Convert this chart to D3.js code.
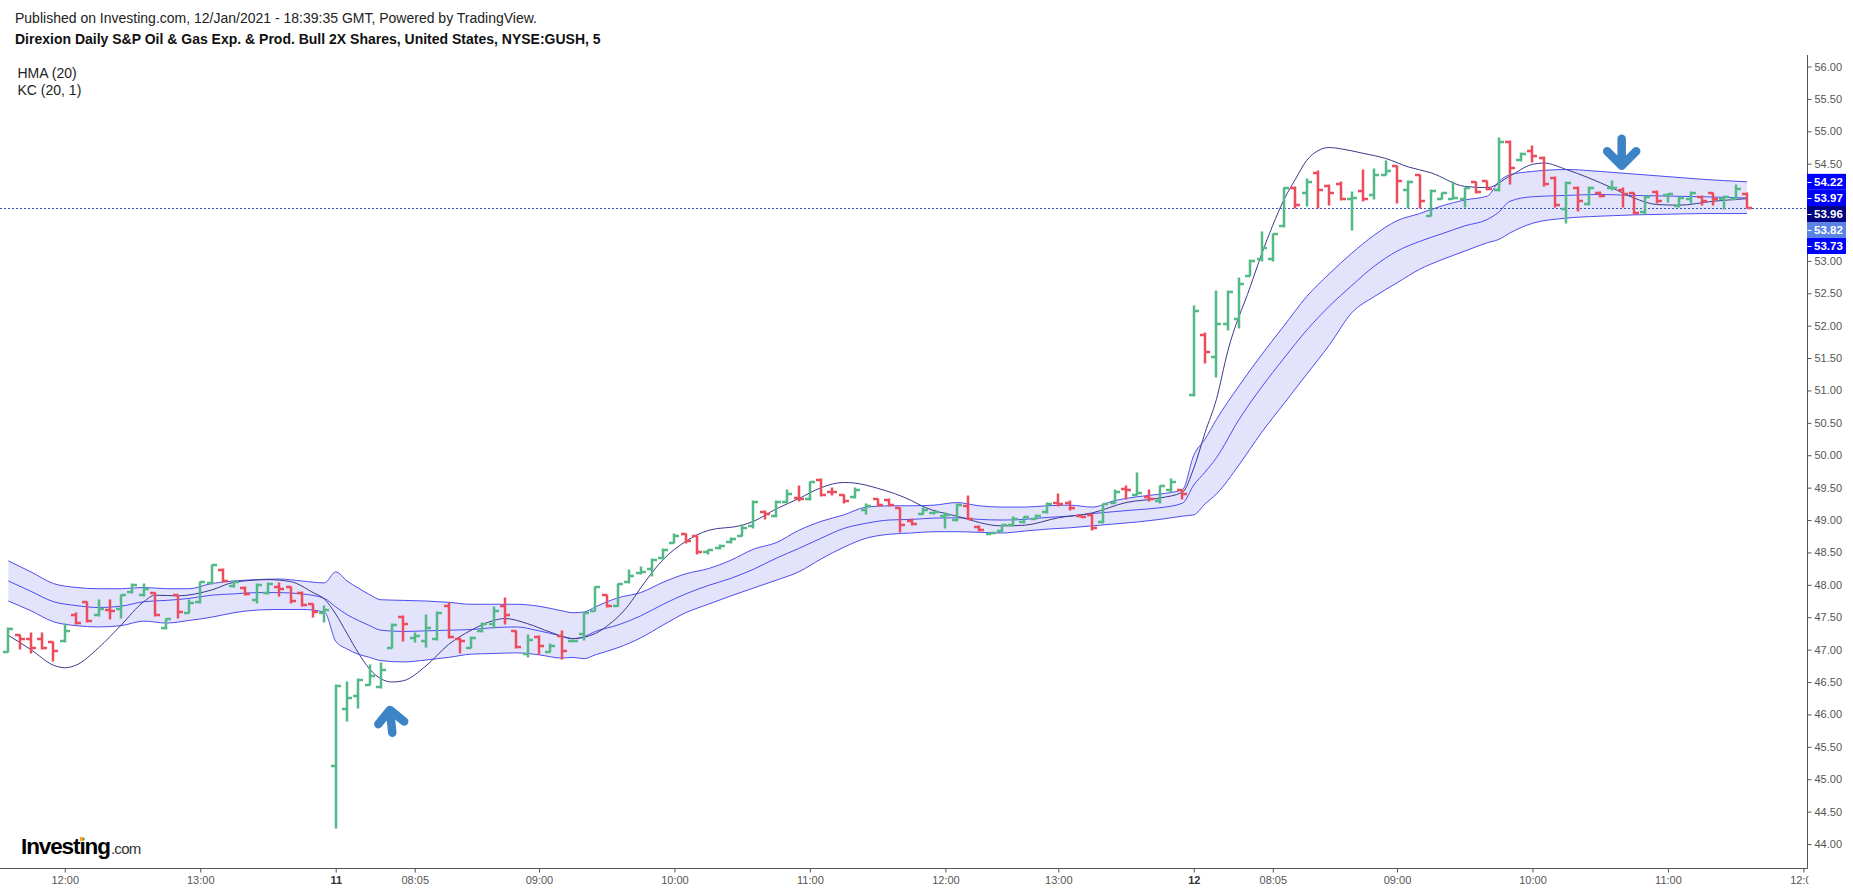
<!DOCTYPE html>
<html>
<head>
<meta charset="utf-8">
<title>GUSH 5 min</title>
<script src="https://cdn.jsdelivr.net/npm/d3@7"></script>
<style>
  body { margin: 0; background: #fff; }
  text { font-family: "Liberation Sans", Arial, sans-serif; }
</style>
</head>
<body>
<div id="chart"></div>
<script>
// 5 minute bars, one entry per bar (Jan 8 11:35 -> Jan 12 11:35)
let opens = [46.97,47.22,47.16,47.16,47.12,47.13,47.54,47.74,47.54,47.61,47.62,47.89,47.84,47.88,47.33,47.84,47.57,47.73,48.03,48.23,47.98,47.95,47.76,47.88,47.96,47.97,47.88,47.70,47.56,
  45.20,46.08,46.29,46.46,46.43,47.03,47.51,47.18,47.13,47.16,47.68,47.17,47.03,47.28,47.39,47.67,47.28,46.94,47.20,46.97,47.21,47.13,47.24,47.60,47.84,47.68,48.05,48.18,48.24,48.41,
  48.65,48.78,48.75,48.50,48.57,48.66,48.76,48.91,49.13,49.06,49.28,49.34,49.33,49.62,49.44,49.38,49.35,49.16,49.32,49.31,49.18,48.99,49.10,49.11,49.06,49.00,49.21,48.90,48.79,48.83,
  48.92,48.97,49.02,49.13,49.27,49.26,49.06,49.08,48.97,49.27,49.48,49.39,49.35,49.29,49.46,49.46,
  50.93,51.86,51.51,52.03,52.11,52.77,53.03,53.03,53.54,54.13,54.04,54.36,54.15,54.19,53.96,54.08,54.01,54.33,54.46,54.10,54.32,53.70,53.96,53.96,53.95,54.21,54.23,54.09,54.84,54.56,
  54.69,54.59,54.28,53.80,54.13,53.88,54.05,54.12,54.10,54.04,53.75,54.07,54.02,53.85,53.95,53.99,54.04,53.95,53.96,54.03];
let highs = [47.34,47.23,47.26,47.26,47.12,47.39,47.56,47.74,47.76,47.76,47.85,48.01,48.02,47.88,47.48,47.84,47.77,48.05,48.31,48.24,48.06,47.96,48.01,48.03,48.03,47.97,47.89,47.71,47.68,
  46.45,46.50,46.54,46.76,46.79,47.39,47.52,47.26,47.54,47.58,47.72,47.18,47.19,47.41,47.66,47.80,47.28,47.22,47.21,47.08,47.28,47.15,47.56,47.97,47.85,48.02,48.23,48.28,48.40,48.55,
  48.78,48.78,48.76,48.54,48.61,48.72,48.93,49.29,49.14,49.29,49.46,49.53,49.59,49.63,49.50,49.39,49.50,49.24,49.33,49.32,49.19,49.02,49.19,49.13,49.11,49.24,49.37,48.91,48.80,48.93,
  49.04,49.05,49.08,49.27,49.40,49.29,49.07,49.09,49.25,49.46,49.53,49.72,49.47,49.53,49.63,49.47,
  52.30,51.88,52.53,52.53,52.74,53.01,53.45,53.42,54.13,54.14,54.27,54.38,54.17,54.21,54.07,54.41,54.42,54.54,54.47,54.23,54.33,54.09,54.05,54.22,54.13,54.22,54.24,54.90,54.85,54.67,
  54.77,54.60,54.30,54.21,54.14,54.14,54.06,54.23,54.12,54.05,54.00,54.08,54.03,53.99,54.06,54.00,54.04,54.00,54.17,54.04];
let lows = [46.96,47.01,46.95,47.01,46.82,47.11,47.39,47.43,47.52,47.48,47.49,47.87,47.83,47.52,47.32,47.49,47.56,47.72,48.02,48.04,47.97,47.85,47.72,47.86,47.83,47.72,47.67,47.51,47.43,
  44.25,45.90,46.10,46.45,46.41,47.02,47.13,47.12,47.04,47.15,47.18,46.95,47.02,47.27,47.33,47.40,47.02,46.89,46.93,46.96,46.86,47.12,47.15,47.60,47.66,47.67,48.03,48.17,48.14,48.40,
  48.64,48.65,48.48,48.47,48.56,48.65,48.75,48.88,49.01,49.05,49.27,49.29,49.31,49.37,49.38,49.27,49.34,49.09,49.22,49.22,48.82,48.92,49.09,49.10,48.88,48.99,49.01,48.83,48.78,48.82,
  48.91,48.96,49.01,49.11,49.22,49.15,49.04,48.84,48.95,49.26,49.33,49.38,49.30,49.27,49.44,49.33,
  50.92,51.43,51.20,51.94,51.97,52.77,53.00,53.00,53.53,53.81,53.85,53.81,53.87,53.94,53.47,53.93,53.95,54.32,53.90,53.82,53.82,53.70,53.95,53.95,53.83,54.05,54.09,54.08,54.18,54.54,
  54.52,54.15,53.83,53.58,53.77,53.87,53.99,54.09,53.83,53.73,53.73,53.90,53.91,53.83,53.90,53.87,53.87,53.80,53.95,53.82];
let closes = [47.32,47.16,47.03,47.03,46.98,47.29,47.41,47.44,47.62,47.59,47.84,48.00,47.93,47.53,47.47,47.58,47.72,48.04,48.30,48.06,48.05,47.86,47.99,48.02,47.94,47.75,47.69,47.58,47.61,
  46.44,46.26,46.53,46.59,46.69,47.38,47.39,47.21,47.34,47.57,47.20,47.13,47.18,47.40,47.60,47.53,47.04,47.15,47.06,47.06,46.98,47.14,47.56,47.96,47.68,48.01,48.14,48.20,48.39,48.54,
  48.76,48.67,48.50,48.53,48.60,48.70,48.87,49.28,49.09,49.28,49.40,49.33,49.58,49.38,49.43,49.29,49.47,49.22,49.23,49.23,48.92,48.94,49.16,49.12,49.08,49.23,49.02,48.84,48.80,48.92,
  49.02,49.04,49.07,49.25,49.24,49.19,49.05,48.87,49.24,49.44,49.46,49.41,49.33,49.52,49.58,49.40,
  52.22,51.60,52.02,52.52,52.65,53.00,53.20,53.41,54.12,53.86,54.22,54.09,54.05,53.96,53.97,53.95,54.33,54.38,54.23,54.22,53.92,54.08,54.04,53.97,54.12,54.06,54.11,54.84,54.44,54.65,
  54.62,54.18,53.86,54.20,53.92,54.13,54.00,54.13,54.03,53.74,53.99,53.92,54.03,53.97,54.05,53.92,53.95,53.99,54.11,53.82];

// Keltner channel (20, 1) at these bars
let kcBars = [0,2,4,6,8,10,12,14,16,18,20,22,24,26,28,29,30,31,32,33,35,37,39,41,43,45,47,49,50,51,
  52,54,56,58,60,62,64,66,68,70,72,74,76,78,80,82,84,86,88,90,92,94,96,98,100,102,104,105,106,107,
  109,111,113,115,117,119,121,123,125,127,129,131,132,133,135,138,141,144,147,150,154];
let kcUpper = [48.37,48.20,48.02,47.96,47.94,47.94,47.96,47.94,47.94,48.02,48.06,48.08,48.09,48.06,48.03,48.20,48.06,47.95,47.85,47.77,
  47.76,47.75,47.73,47.70,47.70,47.70,47.67,47.60,47.57,47.58,47.66,47.80,47.88,48.04,48.17,48.25,48.38,48.55,48.65,48.84,
  48.98,49.08,49.20,49.22,49.22,49.23,49.27,49.22,49.20,49.20,49.22,49.23,49.20,49.30,49.36,49.40,49.47,50.00,50.25,50.55,
  51.07,51.55,52.00,52.45,52.80,53.12,53.40,53.62,53.73,53.85,53.94,54.00,54.22,54.33,54.38,54.41,54.38,54.34,54.30,54.26,54.22];
let kcMiddle = [48.06,47.90,47.74,47.68,47.65,47.67,47.74,47.76,47.79,47.84,47.86,47.88,47.88,47.86,47.79,47.66,47.54,47.45,47.37,47.30,
  47.28,47.29,47.30,47.31,47.34,47.35,47.29,47.21,47.17,47.20,47.28,47.38,47.52,47.70,47.86,47.99,48.10,48.24,48.41,48.56,
  48.72,48.87,48.95,49.00,49.01,49.03,49.035,49.01,49.00,49.01,49.04,49.06,49.10,49.13,49.16,49.19,49.26,49.54,49.74,49.96,
  50.55,51.05,51.50,51.93,52.30,52.62,52.92,53.15,53.30,53.42,53.54,53.64,53.75,53.92,53.99,54.01,54.025,54.01,54.00,53.99,53.97];
let kcLower = [47.75,47.60,47.43,47.37,47.35,47.37,47.44,47.41,47.45,47.50,47.57,47.61,47.62,47.62,47.58,47.13,47.01,46.93,46.88,46.83,
  46.81,46.84,46.88,46.93,46.94,46.95,46.92,46.87,46.88,46.86,46.92,47.03,47.18,47.38,47.57,47.70,47.83,47.95,48.07,48.20,
  48.40,48.58,48.72,48.78,48.80,48.82,48.82,48.81,48.80,48.83,48.86,48.88,48.91,48.94,48.97,49.01,49.06,49.08,49.25,49.40,
  49.85,50.35,50.80,51.25,51.70,52.20,52.45,52.66,52.87,53.02,53.15,53.28,53.33,53.43,53.58,53.66,53.69,53.71,53.72,53.73,53.73];

// Hull moving average (20)
let hmaBars = [0,2,4,5,6,8,10,12,13,15,18,20,23,25,27,28,29,30,31,32,33,34,35,37,39,41,43,44,46,48,
  50,52,53,55,56,58,60,62,65,66,68,70,72,74,75,77,80,81,84,88,90,93,96,99,102,104,105,106,107,108,
  110,111,112,113,114,115,116,117,118,120,122,124,126,129,131,133,135,136,138,140,142,144,146,148,151,154];
let hmaVals = [47.22,47.00,46.76,46.72,46.76,47.03,47.38,47.74,47.84,47.83,47.92,48.04,48.08,48.05,47.88,47.78,47.55,47.25,46.95,46.70,
  46.55,46.50,46.52,46.75,47.08,47.30,47.45,47.48,47.40,47.27,47.17,47.25,47.36,47.70,47.95,48.39,48.67,48.84,48.92,48.98,
  49.17,49.33,49.50,49.58,49.57,49.49,49.30,49.21,49.06,48.91,48.92,49.035,49.11,49.27,49.34,49.43,49.80,50.35,50.86,51.60,
  52.60,53.10,53.55,53.95,54.26,54.55,54.70,54.75,54.73,54.66,54.58,54.45,54.36,54.15,54.13,54.31,54.49,54.51,54.41,54.28,
  54.13,53.97,53.87,53.86,53.92,53.96];

// bottom axis: bar number of each tick and its label
let tickBars = [5,17,29,36,47,59,71,83,93,105,112,123,135,147,159];
let tickLabels = ["12:00","13:00","11","08:05","09:00","10:00","11:00","12:00","13:00","12","08:05","09:00","10:00","11:00","12:00"];
let dayLabels = ["11","12"];

// price scale tags (KC upper, KC middle, HMA, last close, KC lower)
let tagValues = [54.22, 53.97, 53.96, 53.82, 53.73];
let tagColors = ["#0000ff", "#0000ff", "#000080", "#5b83e6", "#0000ff"];

// blue arrows drawn on the chart: bar, price at the tip, direction
let arrowBars = [33.8, 142.9];
let arrowTips = [46.07, 54.47];
let arrowDirs = [-1, 1];

let green = "#53b987", red = "#eb4d5c";

function drawChart() {
  let width = 1853, height = 892;
  let axisX = 1807.5, axisY = 868.5;

  let svg = d3.select("#chart")
    .append("svg")
    .attr("width", width)
    .attr("height", height);

  svg.append("rect").attr("width", width).attr("height", height).attr("fill", "#fff");

  let x = d3.scaleLinear().domain([0, 154]).range([8.3, 1747]);
  let y = d3.scaleLinear().domain([44, 56]).range([844, 66.5]);

  // keltner band
  let kc = d3.range(kcBars.length).map(i => ({b: kcBars[i], u: kcUpper[i], m: kcMiddle[i], l: kcLower[i]}));
  svg.append("path")
    .attr("d", d3.area().x(d => x(d.b)).y0(d => y(d.l)).y1(d => y(d.u)).curve(d3.curveMonotoneX)(kc))
    .attr("fill", "#e3e3fc");
  ["u", "m", "l"].forEach(k => {
    svg.append("path")
      .attr("d", d3.line().x(d => x(d.b)).y(d => y(d[k])).curve(d3.curveMonotoneX)(kc))
      .attr("fill", "none")
      .attr("stroke", "#4d4df0")
      .attr("stroke-width", 1);
  });

  // hma
  svg.append("path")
    .attr("d", d3.line().x(d => x(d[0])).y(d => y(d[1])).curve(d3.curveMonotoneX)(d3.zip(hmaBars, hmaVals)))
    .attr("fill", "none")
    .attr("stroke", "#3a3a8c")
    .attr("stroke-width", 1);

  // last price line
  let lastY = Math.round(y(closes[closes.length - 1])) + 0.5;
  svg.append("line")
    .attr("x1", 0).attr("x2", axisX)
    .attr("y1", lastY).attr("y2", lastY)
    .attr("stroke", "#3550c0")
    .attr("stroke-dasharray", "2,2");

  // ohlc bars
  svg.append("g")
    .selectAll("path")
    .data(d3.range(opens.length))
    .enter()
    .append("path")
      .attr("d", function(i) {
        let cx = Math.round(x(i));
        let yo = Math.round(y(opens[i])), yc = Math.round(y(closes[i]));
        let yh = Math.round(y(highs[i])) - 0.5, yl = Math.round(y(lows[i])) + 0.5;
        return "M" + cx + "," + yh + "V" + yl + "M" + (cx - 5) + "," + yo + "H" + cx + "M" + cx + "," + yc + "H" + (cx + 5);
      })
      .attr("fill", "none")
      .attr("stroke-width", 2.5)
      .attr("stroke", i => closes[i] >= opens[i] ? green : red);

  // arrows
  arrowBars.forEach(function(b, i) {
    let ax = x(b), ay = y(arrowTips[i]), dir = arrowDirs[i];
    let len = dir < 0 ? 23 : 27, wing = dir < 0 ? 13 : 14.5;
    svg.append("path")
      .attr("d", "M" + ax + "," + (ay - dir * len) + "L" + ax + "," + ay +
                 "M" + (ax - wing) + "," + (ay - dir * wing) + "L" + ax + "," + ay + "L" + (ax + wing) + "," + (ay - dir * wing))
      .attr("transform", dir < 0 ? "rotate(-6," + ax + "," + ay + ")" : null)
      .attr("fill", "none")
      .attr("stroke", "#3d84c7")
      .attr("stroke-width", 8.5)
      .attr("stroke-linecap", "round")
      .attr("stroke-linejoin", "round");
  });

  // right price axis
  let yAxis = svg.append("g")
    .attr("transform", "translate(" + axisX + ",0)")
    .call(d3.axisRight(y).tickValues(d3.range(44, 56.001, 0.5)).tickFormat(d3.format(".2f")).tickSize(4).tickPadding(3));
  yAxis.select(".domain").remove();
  yAxis.attr("font-family", null).attr("font-size", null);
  yAxis.selectAll("line").attr("stroke", "#555");
  yAxis.selectAll("text").attr("fill", "#555").style("font-size", "11px");
  svg.append("line")
    .attr("x1", axisX).attr("x2", axisX)
    .attr("y1", 55).attr("y2", axisY)
    .attr("stroke", "#555");

  // tags on the price axis, stacked so they don't overlap
  let prev = -100;
  tagValues.forEach(function(v, i) {
    let ty = Math.max(y(v), prev + 16);
    prev = ty;
    svg.append("rect")
      .attr("x", axisX - 0.5).attr("y", ty - 8)
      .attr("width", 39).attr("height", 16)
      .attr("fill", tagColors[i]);
    svg.append("line")
      .attr("x1", axisX).attr("x2", axisX + 4)
      .attr("y1", Math.round(ty) + 0.5).attr("y2", Math.round(ty) + 0.5)
      .attr("stroke", "#fff");
    svg.append("text")
      .attr("x", axisX + 6.5).attr("y", ty)
      .attr("dy", "0.35em")
      .attr("fill", "#fff")
      .attr("font-weight", "bold")
      .style("font-size", "11.5px")
      .text(d3.format(".2f")(v));
  });

  // bottom time axis (labels past the price axis are cut, like the last "12:0")
  svg.append("clipPath").attr("id", "xclip")
    .append("rect").attr("x", 0).attr("y", -2).attr("width", axisX + 1).attr("height", 40);
  let xAxis = svg.append("g")
    .attr("transform", "translate(0," + axisY + ")")
    .attr("clip-path", "url(#xclip)")
    .call(d3.axisBottom(x).tickValues(tickBars).tickFormat((d, i) => tickLabels[i]).tickSize(4).tickPadding(4));
  xAxis.select(".domain").remove();
  xAxis.attr("font-family", null).attr("font-size", null);
  xAxis.selectAll("line").attr("stroke", "#555");
  xAxis.selectAll("text")
    .attr("fill", (d, i) => dayLabels.includes(tickLabels[i]) ? "#333" : "#555")
    .attr("font-weight", (d, i) => dayLabels.includes(tickLabels[i]) ? "bold" : null)
    .style("font-size", "11px");
  svg.append("line")
    .attr("x1", 0).attr("x2", axisX)
    .attr("y1", axisY).attr("y2", axisY)
    .attr("stroke", "#555");

  // titles and legend
  svg.append("text").attr("x", 15).attr("y", 22.5)
    .attr("fill", "#222").style("font-size", "14px")
    .text("Published on Investing.com, 12/Jan/2021 - 18:39:35 GMT, Powered by TradingView.");
  svg.append("text").attr("x", 15).attr("y", 44)
    .attr("fill", "#111").attr("font-weight", "bold").style("font-size", "14px")
    .text("Direxion Daily S&P Oil & Gas Exp. & Prod. Bull 2X Shares, United States, NYSE:GUSH, 5");
  svg.append("text").attr("x", 17.5).attr("y", 78)
    .attr("fill", "#222").style("font-size", "14px")
    .text("HMA (20)");
  svg.append("text").attr("x", 17.5).attr("y", 95)
    .attr("fill", "#222").style("font-size", "14px")
    .text("KC (20, 1)");

  // investing.com logo
  let logo = svg.append("text").attr("x", 21).attr("y", 854)
    .attr("fill", "#000").attr("font-weight", "bold")
    .style("font-size", "22.5px").style("letter-spacing", "-1.1px")
    .text("Investing");
  let iStart = 21 + logo.node().getSubStringLength(0, 6);
  let iWidth = logo.node().getSubStringLength(6, 1);
  svg.append("rect")
    .attr("x", iStart + 0.5).attr("y", 837)
    .attr("width", Math.max(iWidth - 1.5, 3)).attr("height", 4)
    .attr("fill", "#f5a623");
  svg.append("text").attr("x", 21 + logo.node().getComputedTextLength() + 1).attr("y", 854)
    .attr("fill", "#333")
    .style("font-size", "15px").style("letter-spacing", "-0.7px")
    .text(".com");
}

drawChart();
</script>
</body>
</html>
